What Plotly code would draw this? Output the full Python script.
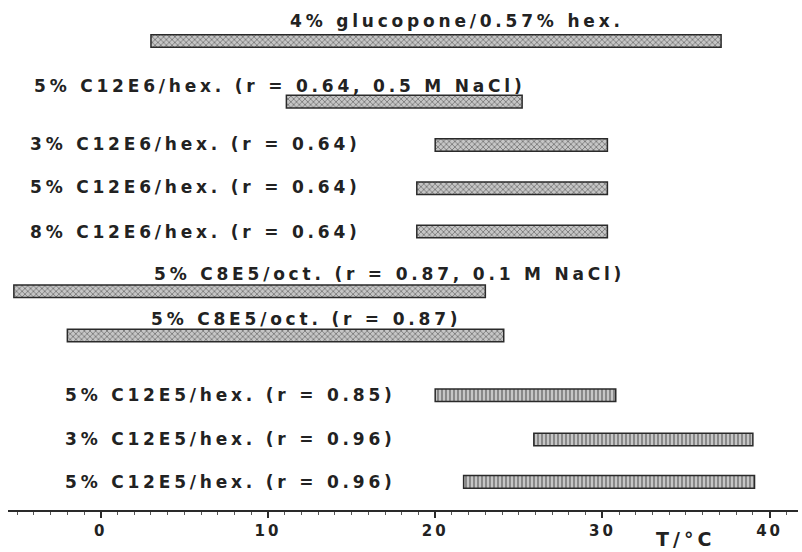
import plotly.graph_objects as go

# ---------------- data ----------------
conditions = [
    "4% glucopone/0.57% hex.",
    "5% C12E6/hex. (r = 0.64, 0.5 M NaCl)",
    "3% C12E6/hex. (r = 0.64)",
    "5% C12E6/hex. (r = 0.64)",
    "8% C12E6/hex. (r = 0.64)",
    "5% C8E5/oct. (r = 0.87, 0.1 M NaCl)",
    "5% C8E5/oct. (r = 0.87)",
    "5% C12E5/hex. (r = 0.85)",
    "3% C12E5/hex. (r = 0.96)",
    "5% C12E5/hex. (r = 0.96)",
]
t_low = [3.0, 11.1, 20.0, 18.9, 18.9, -5.2, -2.0, 20.0, 25.9, 21.7]
t_high = [37.1, 25.2, 30.3, 30.3, 30.3, 23.0, 24.1, 30.8, 39.0, 39.1]
tick_values = [0, 10, 20, 30, 40]
tick_labels = ["0", "10", "20", "30", "40"]
axis_title = "T/°C"

# ---------------- layout helpers ----------------
row_pos = [0, 1.4, 2.4, 3.4, 4.4, 5.78, 6.8, 8.18, 9.2, 10.18]
label_x = [21.3, 10.69, 5.69, 5.69, 5.69, 17.24, 12.27, 7.73, 7.73, 7.73]
label_y = [-0.46, 1.03, 2.38, 3.38, 4.4, 5.38, 6.42, 8.17, 9.18, 10.18]
patterns = ["x"] * 7 + ["|"] * 3

FONT = "DejaVu Sans"
INK = "#222222"


def spaced(s, px):
    return f"<span style='letter-spacing:{px}px'>{s}</span>"


fig = go.Figure()
fig.add_trace(
    go.Bar(
        orientation="h",
        y=row_pos,
        base=t_low,
        x=[h - l for l, h in zip(t_low, t_high)],
        width=0.29,
        marker=dict(
            color="#c4c4c4",
            line=dict(color="#2a2a2a", width=1.5),
            pattern=dict(
                shape=patterns,
                fgcolor="#6e6e6e",
                bgcolor="#c6c6c6",
                size=4,
                solidity=0.35,
                fillmode="replace",
            ),
        ),
        hoverinfo="skip",
        showlegend=False,
    )
)

annotations = []
for txt, lx, ly in zip(conditions, label_x, label_y):
    annotations.append(
        dict(
            x=lx, y=ly, xref="x", yref="y",
            text=spaced(txt, 3.8),
            showarrow=False,
            xanchor="center", yanchor="middle",
            font=dict(family=FONT, size=17, color=INK, weight="bold"),
        )
    )
annotations.append(
    dict(
        x=35.0, y=-0.057, xref="x", yref="paper",
        text=spaced(axis_title, 4),
        showarrow=False,
        xanchor="center", yanchor="middle",
        font=dict(family=FONT, size=19, color=INK, weight="bold"),
    )
)

fig.update_layout(
    width=802,
    height=552,
    margin=dict(l=8, r=4, t=0, b=42),
    paper_bgcolor="white",
    plot_bgcolor="white",
    annotations=annotations,
    xaxis=dict(
        range=[-5.55, 41.7],
        showgrid=False,
        zeroline=False,
        showline=True,
        linecolor="#2a2a2a",
        linewidth=2,
        ticks="outside",
        ticklen=6,
        tickwidth=2,
        tickcolor="#2a2a2a",
        tickvals=tick_values,
        ticktext=[spaced(t, 3) for t in tick_labels],
        tickfont=dict(family=FONT, size=15, color=INK, weight="bold"),
        minor=dict(dtick=1, tick0=0, ticks="outside", ticklen=3,
                   tickwidth=1, tickcolor="#555555"),
    ),
    yaxis=dict(range=[10.83, -0.947], visible=False),
)

fig.write_html("out.html")
